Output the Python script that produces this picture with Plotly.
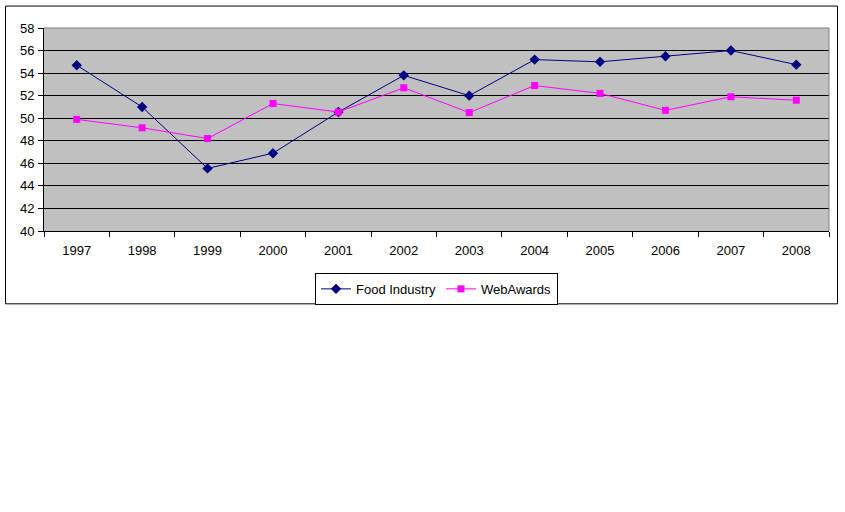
import plotly.graph_objects as go

years = ["1997", "1998", "1999", "2000", "2001", "2002", "2003", "2004", "2005", "2006", "2007", "2008"]
food_industry = [54.7, 51.0, 45.55, 46.9, 50.55, 53.8, 52.0, 55.2, 55.0, 55.5, 56.0, 54.75]
web_awards = [49.9, 49.15, 48.2, 51.3, 50.55, 52.7, 50.5, 52.9, 52.2, 50.7, 51.9, 51.6]
y_ticks = [40, 42, 44, 46, 48, 50, 52, 54, 56, 58]

W, H = 845, 512
L, R, T, B = 44, 829, 27.5, 231
pw, ph = R - L, B - T

def px(x):
    return (x - L) / pw

def py(y):
    return (B - y) / ph

fig = go.Figure()
fig.add_trace(go.Scatter(
    x=years, y=food_industry, name="Food Industry", mode="lines+markers",
    line=dict(color="#000080", width=1),
    marker=dict(symbol="diamond", size=8, color="#000080"),
))
fig.add_trace(go.Scatter(
    x=years, y=web_awards, name="WebAwards", mode="lines+markers",
    line=dict(color="#FF00FF", width=1),
    marker=dict(symbol="square", size=7, color="#FF00FF"),
))

fig.update_layout(
    width=W, height=H,
    margin=dict(l=L, r=W - R, t=T, b=H - B, pad=0, autoexpand=False),
    paper_bgcolor="white",
    plot_bgcolor="#C0C0C0",
    font=dict(family="Liberation Sans, Arial, sans-serif", size=13, color="black"),
    showlegend=True,
    legend=dict(
        orientation="h", x=0.5, xanchor="center", y=py(273), yanchor="top",
        bordercolor="black", borderwidth=1, bgcolor="white",
        font=dict(size=13), itemwidth=30, tracegroupgap=0,
    ),
    xaxis=dict(
        type="category", range=[-0.5, 11.5], tickson="boundaries",
        ticks="outside", ticklen=5, tickcolor="black", tickwidth=1,
        showgrid=False, showline=True, linecolor="black", linewidth=1,
        zeroline=False, ticklabelstandoff=7, automargin=False,
    ),
    yaxis=dict(
        range=[40, 58], tickvals=y_ticks, ticks="outside", ticklen=5,
        tickcolor="black", showgrid=True, gridcolor="black", gridwidth=1,
        showline=True, linecolor="black", linewidth=1, zeroline=False,
        ticklabelstandoff=1, automargin=False,
    ),
    shapes=[
        dict(type="rect", xref="paper", yref="paper",
             x0=px(5.5), x1=px(837.5), y0=py(304), y1=py(5.5),
             line=dict(color="black", width=1), layer="below"),
        dict(type="line", xref="paper", yref="paper",
             x0=0, x1=1, y0=1, y1=1, line=dict(color="#808080", width=1)),
        dict(type="line", xref="paper", yref="paper",
             x0=1, x1=1, y0=0, y1=1, line=dict(color="#808080", width=1)),
    ],
)

fig.write_html(
    "out.html",
    config={"displayModeBar": False},
    post_script="document.body.style.margin='0';document.body.style.overflow='hidden';",
)
